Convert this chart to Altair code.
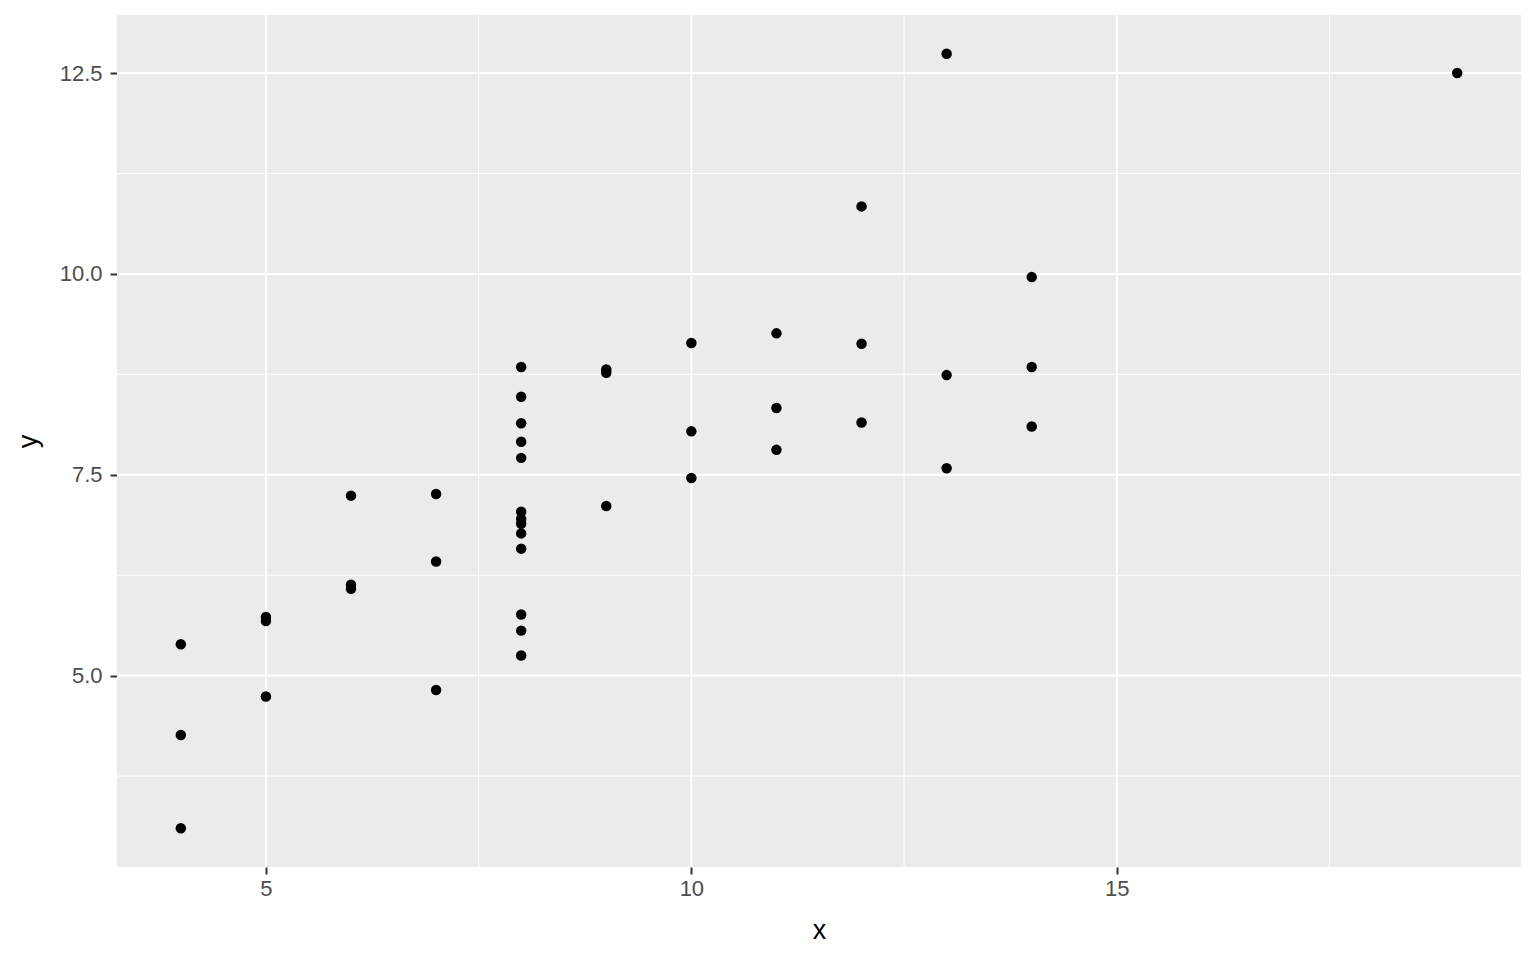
import altair as alt
import pandas as pd

x123 = [10, 8, 13, 9, 11, 14, 6, 4, 12, 7, 5]
y1 = [8.04, 6.95, 7.58, 8.81, 8.33, 9.96, 7.24, 4.26, 10.84, 4.82, 5.68]
y2 = [9.14, 8.14, 8.74, 8.77, 9.26, 8.10, 6.13, 3.10, 9.13, 7.26, 4.74]
y3 = [7.46, 6.77, 12.74, 7.11, 7.81, 8.84, 6.08, 5.39, 8.15, 6.42, 5.73]
x4 = [8, 8, 8, 8, 8, 8, 8, 19, 8, 8, 8]
y4 = [6.58, 5.76, 7.71, 8.84, 8.47, 7.04, 5.25, 12.50, 5.56, 7.91, 6.89]

x_major = [5, 10, 15]
x_minor = [7.5, 12.5, 17.5]
y_major = [5.0, 7.5, 10.0, 12.5]
y_minor = [3.75, 6.25, 8.75, 11.25]

xs = x123 * 3 + x4
ys = y1 + y2 + y3 + y4
df = pd.DataFrame({"x": xs, "y": ys})

x_dom = [3.25, 19.75]
y_dom = [2.618, 13.222]

xs_scale = alt.Scale(domain=x_dom, nice=False, zero=False)
ys_scale = alt.Scale(domain=y_dom, nice=False, zero=False)

W, H = 1404, 852

x_axis = alt.Axis(title="x", values=x_major, format="d", grid=False, domain=False,
                  tickColor="#333333", tickWidth=2, tickSize=7, labelPadding=4,
                  labelColor="#4D4D4D", labelFontSize=22, labelFont="Liberation Sans",
                  titleFont="Liberation Sans", titleFontSize=27, titleFontWeight="normal",
                  titleColor="black", titlePadding=18)
y_axis = alt.Axis(title="y", values=y_major, format=".1f", grid=False, domain=False,
                  tickColor="#333333", tickWidth=2, tickSize=7, labelPadding=8,
                  labelColor="#4D4D4D", labelFontSize=22, labelFont="Liberation Sans",
                  titleFont="Liberation Sans", titleFontSize=27, titleFontWeight="normal",
                  titleColor="black", titlePadding=17)

bg = alt.Chart(pd.DataFrame({"a": [0]})).mark_rect(color="#EBEBEB").encode(
    x=alt.value(0), x2=alt.value(W), y=alt.value(0), y2=alt.value(H)
)

def vrules(vals, width):
    return alt.Chart(pd.DataFrame({"v": vals})).mark_rule(color="white", strokeWidth=width).encode(
        x=alt.X("v:Q", scale=xs_scale, axis=x_axis), y=alt.value(0), y2=alt.value(H)
    )

def hrules(vals, width):
    return alt.Chart(pd.DataFrame({"v": vals})).mark_rule(color="white", strokeWidth=width).encode(
        y=alt.Y("v:Q", scale=ys_scale, axis=y_axis), x=alt.value(0), x2=alt.value(W)
    )

points = alt.Chart(df).mark_circle(color="black", opacity=1, size=110).encode(
    x=alt.X("x:Q", scale=xs_scale, axis=x_axis),
    y=alt.Y("y:Q", scale=ys_scale, axis=y_axis),
)

chart = alt.layer(
    bg, vrules(x_minor, 1), hrules(y_minor, 1), vrules(x_major, 2), hrules(y_major, 2), points
).properties(
    width=W, height=H,
    autosize=alt.AutoSizeParams(type="none"),
    padding={"left": 109, "top": 7, "right": 7, "bottom": 85},
).configure_view(stroke=None)

chart.save("out.html", embed_options={"renderer": "svg", "actions": False})
